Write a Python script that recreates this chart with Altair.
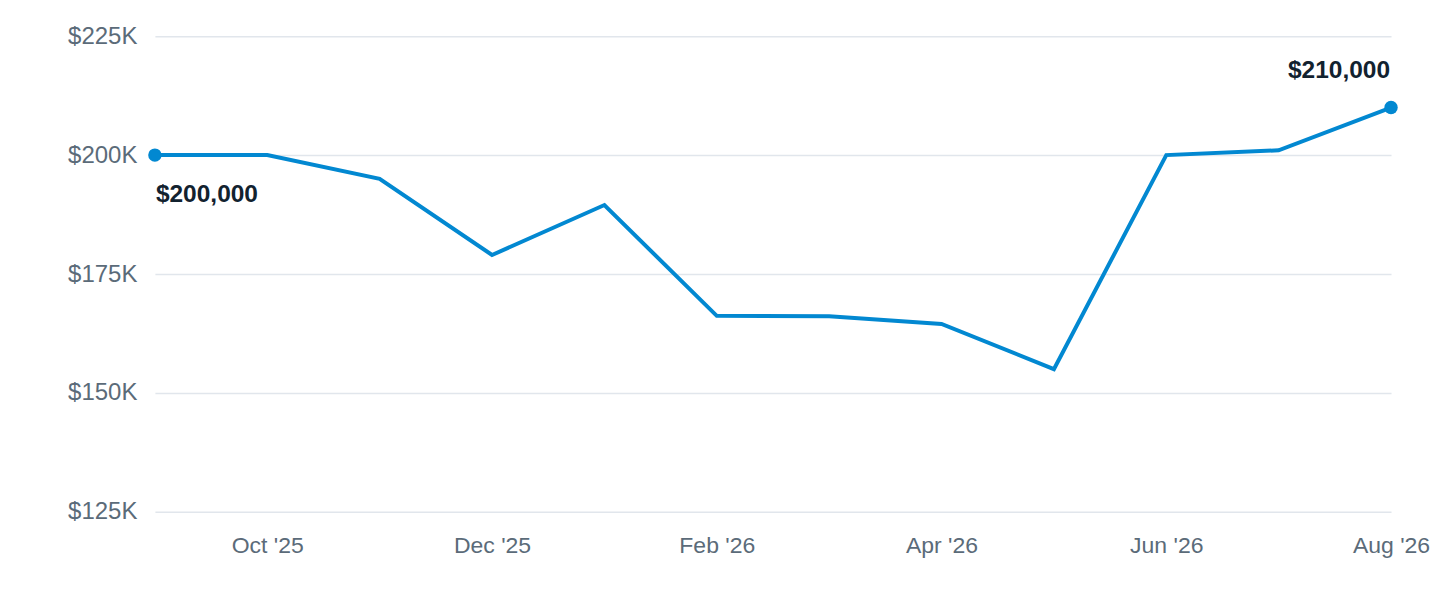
import altair as alt
import pandas as pd

months = ["Sep '25", "Oct '25", "Nov '25", "Dec '25", "Jan '26", "Feb '26",
          "Mar '26", "Apr '26", "May '26", "Jun '26", "Jul '26", "Aug '26"]
prices = [200000, 200000, 195000, 179000, 189500, 166200,
          166100, 164500, 155000, 200000, 201000, 210000]
shown_months = ["Oct '25", "Dec '25", "Feb '26", "Apr '26", "Jun '26", "Aug '26"]

df = pd.DataFrame({"month": months, "price": prices})
ends = df.iloc[[0, -1]].copy()
ends["label"] = ["$" + f"{v:,}" for v in ends["price"]]

blue = "#0288d1"
font = "Liberation Sans"

x = alt.X("month:O", sort=months, title=None,
          scale=alt.Scale(padding=0),
          axis=alt.Axis(values=shown_months, labelAngle=0, ticks=False,
                        domain=False, grid=False, labelFontSize=23,
                        labelColor="#5b6b79", labelFont=font, labelPadding=23))
y = alt.Y("price:Q", title=None,
          scale=alt.Scale(domain=[125000, 225000], nice=False, zero=False),
          axis=alt.Axis(values=[125000, 150000, 175000, 200000, 225000],
                        labelExpr="'$' + datum.value / 1000 + 'K'",
                        ticks=False, domain=False, gridColor="#e1e6ec",
                        gridWidth=1.5, labelFontSize=24, labelColor="#5b6b79",
                        labelFont=font, labelPadding=18))

base = alt.Chart(df)
line = base.mark_line(color=blue, strokeWidth=4).encode(x=x, y=y)
dots = alt.Chart(ends).mark_circle(color=blue, size=180, opacity=1).encode(x=x, y=y)

first_label = alt.Chart(ends.iloc[[0]]).mark_text(
    align="left", baseline="middle", dx=1, dy=40, fontSize=24.5,
    fontWeight="bold", color="#12222f", font=font
).encode(x=x, y=y, text="label:N")
last_label = alt.Chart(ends.iloc[[1]]).mark_text(
    align="right", baseline="middle", dx=-1, dy=-37, fontSize=24.5,
    fontWeight="bold", color="#12222f", font=font
).encode(x=x, y=y, text="label:N")

chart = alt.layer(line, dots, first_label, last_label).properties(
    width=1237, height=476,
    background="white",
    autosize=alt.AutoSizeParams(type="none"),
    padding={"left": 147, "top": 28, "right": 41, "bottom": 60},
).configure_view(strokeWidth=0)

chart.save("out.html", embed_options={"renderer": "svg", "actions": False})
